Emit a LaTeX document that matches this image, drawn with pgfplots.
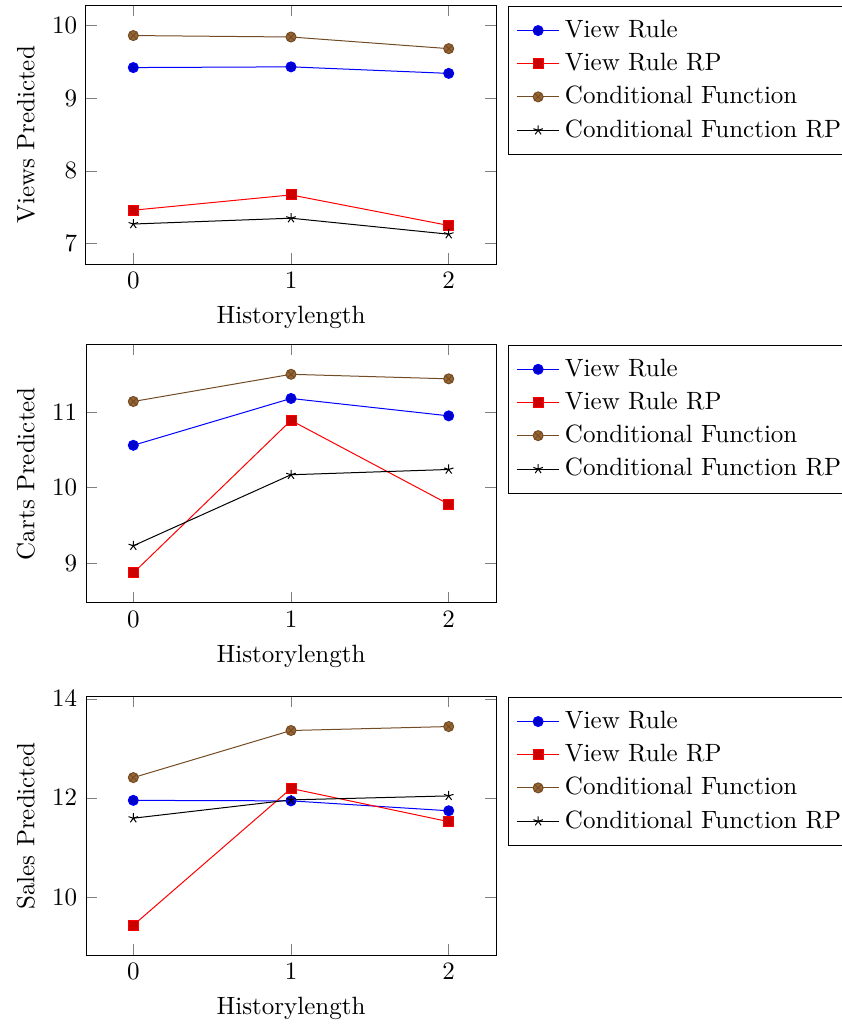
\documentclass[border=0pt]{standalone}
\usepackage{pgfplots}
\pgfplotsset{compat=1.18}

\begin{document}
\begin{tikzpicture}

\pgfplotsset{
  predax/.style={
    width=164pt,
    height=103.3pt,
    scale only axis,
    anchor=south west,
    enlargelimits=0.15,
    xtick={0,1,2},
    xlabel={Historylength},
    legend pos=outer north east,
    legend cell align={left},
    legend style={inner ysep=3.5pt, row sep=0.8pt},
    cycle list={
      {blue,every mark/.append style={fill=blue!80!black},mark=*},
      {red,every mark/.append style={fill=red!80!black},mark=square*},
      {brown!60!black,every mark/.append style={fill=brown!80!black},mark=otimes*},
      {black,mark=star}
    },
  },
}

% views
\begin{axis}[predax, at={(0pt,0pt)}, ylabel={Views Predicted}, ytick={7,8,9,10}]
\addplot coordinates {(0,9.42) (1,9.43) (2,9.34)};
\addlegendentry{View Rule}
\addplot coordinates {(0,7.46) (1,7.67) (2,7.25)};
\addlegendentry{View Rule RP}
\addplot coordinates {(0,9.86) (1,9.84) (2,9.68)};
\addlegendentry{Conditional Function}
\addplot coordinates {(0,7.27) (1,7.35) (2,7.13)};
\addlegendentry{Conditional Function RP}
\end{axis}

% carts
\begin{axis}[predax, at={(0pt,-135.5pt)}, ylabel={Carts Predicted}, ytick={9,10,11}]
\addplot coordinates {(0,10.56) (1,11.18) (2,10.95)};
\addlegendentry{View Rule}
\addplot coordinates {(0,8.87) (1,10.89) (2,9.78)};
\addlegendentry{View Rule RP}
\addplot coordinates {(0,11.14) (1,11.50) (2,11.44)};
\addlegendentry{Conditional Function}
\addplot coordinates {(0,9.23) (1,10.17) (2,10.24)};
\addlegendentry{Conditional Function RP}
\end{axis}

% sales
\begin{axis}[predax, at={(0pt,-276.4pt)}, ylabel={Sales Predicted}, ytick={10,12,14}]
\addplot coordinates {(0,11.95) (1,11.94) (2,11.74)};
\addlegendentry{View Rule}
\addplot coordinates {(0,9.43) (1,12.19) (2,11.52)};
\addlegendentry{View Rule RP}
\addplot coordinates {(0,12.41) (1,13.36) (2,13.44)};
\addlegendentry{Conditional Function}
\addplot coordinates {(0,11.59) (1,11.96) (2,12.04)};
\addlegendentry{Conditional Function RP}
\end{axis}

\pgfresetboundingbox
\path (-34.4pt,105.6pt) rectangle (302.4pt,-304.4pt);

\end{tikzpicture}
\end{document}
